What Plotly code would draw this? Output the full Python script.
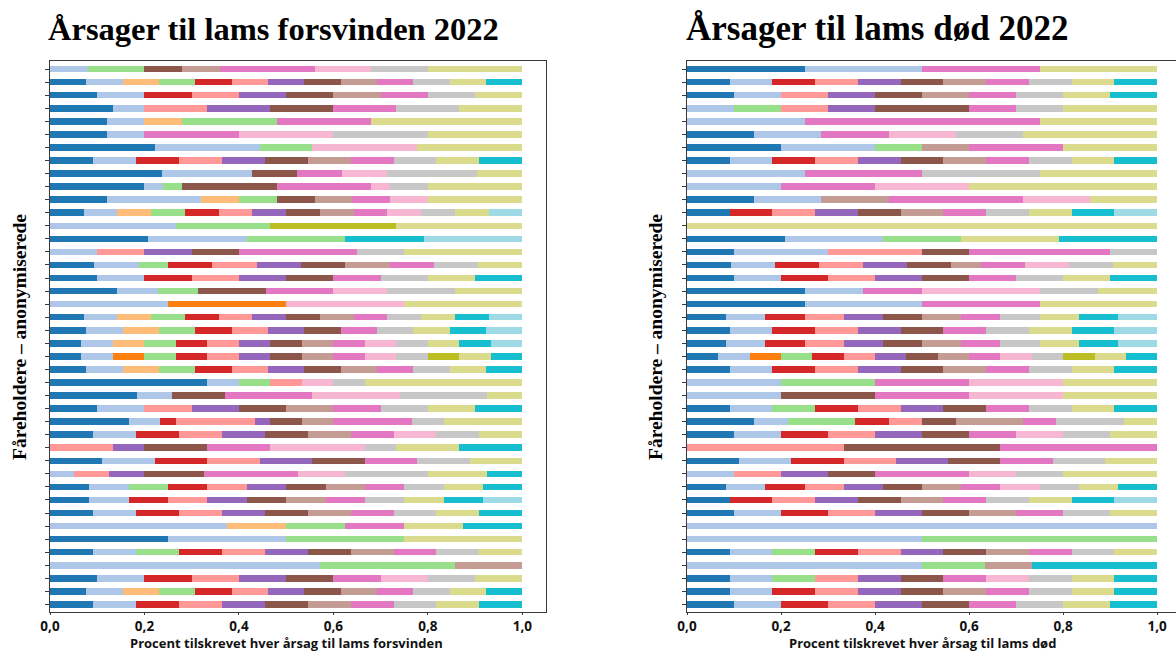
import plotly.graph_objects as go

# ---------------- categories (17 causes, pandas tab20 sampling) ----------------
aarsager = ["Årsag 1", "Årsag 2", "Årsag 3", "Årsag 4", "Årsag 5", "Årsag 6",
            "Årsag 7", "Årsag 8", "Årsag 9", "Årsag 10", "Årsag 11", "Årsag 12",
            "Årsag 13", "Årsag 14", "Årsag 15", "Årsag 16", "Årsag 17"]
farver = ["#1f77b4", "#aec7e8", "#ff7f0e", "#ffbb78", "#98df8a", "#d62728",
          "#ff9896", "#9467bd", "#8c564b", "#c49c94", "#e377c2", "#f7b6d2",
          "#c7c7c7", "#bcbd22", "#dbdb8d", "#17becf", "#9edae5"]

# 42 anonymised farmers, listed top to bottom
faareholdere = [f"Fåreholder {i}" for i in range(1, 43)]

# ---------------- lams forsvinden: relative weights per cause, per farmer ----------------
forsv_01 = [0,1,1,2,3,3,2,1,5,5, 3,1,0,5,0,3,1,5,0,1, 1,1,1,1,5,5,1,5,1,0, 1,0,1,1,1,0,1,1,0,1, 1,1]
forsv_02 = [2,1,1,1,2,2,2,1,4,1, 5,1,4,5,2,3,1,3,1,1, 1,1,1,1,1,2,1,2,1,0, 1,2,1,1,1,3,1,1,4,1, 1,1]
forsv_03 = [0,0,0,0,0,0,0,0,0,0, 0,0,0,0,0,0,0,0,1,0, 0,0,1,0,0,0,0,0,0,0, 0,0,0,0,0,0,0,0,0,0, 0,0]
forsv_04 = [0,1,0,0,2,0,0,0,0,0, 2,1,0,0,0,0,0,0,0,1, 1,1,0,1,0,0,0,0,0,0, 0,0,0,0,0,1,0,0,0,0, 1,0]
forsv_05 = [3,1,0,0,5,0,1,0,0,1, 2,1,3,5,0,2,0,3,0,1, 1,1,1,1,1,0,0,0,0,0, 0,0,1,0,0,1,1,1,2,0, 1,0]
forsv_06 = [0,1,1,0,0,0,0,1,0,0, 0,1,0,0,0,3,1,0,0,1, 1,1,1,1,0,0,0,1,1,0, 1,0,1,1,1,0,0,1,0,1, 1,1]
forsv_07 = [0,1,1,2,0,0,0,1,0,0, 0,1,0,0,2,3,1,0,0,1, 1,1,1,1,1,0,1,5,1,2, 1,3,1,1,1,0,0,1,0,1, 1,1]
forsv_08 = [0,1,1,2,0,0,0,1,0,0, 0,1,0,0,2,3,1,0,0,1, 1,1,1,1,0,0,1,1,1,1, 1,3,1,1,1,0,0,1,0,1, 1,1]
forsv_09 = [2,1,1,2,0,0,0,1,2,5, 2,1,0,0,2,3,1,5,0,1, 1,1,1,1,0,3,1,2,1,2, 1,5,1,1,1,0,0,1,0,1, 1,1]
forsv_10 = [2,1,1,0,0,0,0,1,0,0, 2,1,0,0,0,3,0,0,0,1, 0,1,1,1,0,0,1,2,1,0, 0,0,1,1,1,0,0,1,1,0, 1,1]
forsv_11 = [5,1,1,2,5,5,0,1,2,5, 2,1,0,0,5,3,1,5,0,1, 1,1,1,1,0,5,1,5,1,2, 1,8,1,1,1,1,0,1,0,1, 1,1]
forsv_12 = [3,0,0,0,0,5,2,0,2,1, 2,1,0,0,0,0,0,4,1,0, 0,1,1,0,1,5,0,0,1,3, 0,4,0,0,0,0,0,0,0,1, 0,0]
forsv_13 = [3,1,1,2,0,5,0,1,4,2, 0,1,0,0,2,3,1,5,0,1, 1,1,1,1,1,5,1,2,1,1, 1,7,1,1,1,0,0,1,0,1, 1,1]
forsv_14 = [0,0,0,0,0,0,0,0,0,0, 0,0,4,0,0,0,0,0,0,0, 0,0,1,0,0,0,0,0,0,0, 0,0,0,0,0,0,0,0,0,0, 0,0]
forsv_15 = [5,1,1,2,8,5,2,1,2,5, 5,1,4,0,5,3,1,5,1,1, 1,1,1,1,5,2,1,5,1,2, 1,5,1,1,1,1,1,1,0,1, 1,1]
forsv_16 = [0,1,0,0,0,0,0,1,0,0, 0,0,0,4,0,0,1,0,0,1, 1,1,1,1,0,0,1,0,0,2, 0,3,1,1,1,1,0,0,0,0, 1,1]
forsv_17 = [0,0,0,0,0,0,0,0,0,0, 0,1,0,5,0,0,0,0,0,1, 1,1,0,0,0,0,0,0,0,0, 0,0,0,1,0,0,0,0,0,0, 0,0]

# ---------------- lams død: relative weights per cause, per farmer ----------------
doed_01 = [1,1,1,0,0,1,2,1,0,0, 1,1,0,5,1,3,1,2,1,1, 1,1,1,1,0,0,1,2,1,0, 1,0,1,1,1,0,0,1,0,1, 1,1]
doed_02 = [1,1,1,1,1,1,2,1,1,1, 1,0,0,5,2,3,1,1,1,1, 1,1,1,1,1,1,1,1,1,0, 1,1,1,0,1,1,1,1,15,1, 1,1]
doed_03 = [0,0,0,0,0,0,0,0,0,0, 0,0,0,0,0,0,0,0,0,0, 0,0,1,0,0,0,0,0,0,0, 0,0,0,0,0,0,0,0,0,0, 0,0]
doed_04 = [0,0,0,0,0,0,0,0,0,0, 0,0,0,0,0,0,0,0,0,0, 0,0,0,0,0,0,0,0,0,0, 0,0,0,0,0,0,0,0,0,0, 0,0]
doed_05 = [0,0,0,1,0,0,1,0,0,0, 0,0,0,4,0,0,0,0,0,0, 0,0,1,0,1,0,1,2,0,0, 0,0,0,0,0,0,1,1,4,1, 0,0]
doed_06 = [0,1,0,0,0,0,0,1,0,0, 0,1,0,0,0,3,1,0,0,1, 1,1,1,1,0,0,1,1,1,0, 1,0,1,1,1,0,0,1,0,0, 1,1]
doed_07 = [0,1,1,1,0,0,0,1,0,0, 0,1,0,0,2,3,1,0,0,1, 1,1,1,1,0,0,1,1,1,1, 1,1,1,1,1,0,0,1,0,1, 1,1]
doed_08 = [0,1,1,1,0,0,0,1,0,0, 0,1,0,0,0,3,1,0,0,1, 1,1,1,1,0,0,1,0,1,0, 1,1,1,1,1,0,0,1,0,1, 1,1]
doed_09 = [0,1,1,2,0,0,0,1,0,0, 0,1,0,0,1,3,1,0,0,1, 1,1,1,1,0,1,1,1,1,1, 1,1,1,1,1,0,0,1,0,1, 1,1]
doed_10 = [0,1,1,0,0,0,1,1,0,0, 1,1,0,0,0,2,0,0,0,1, 0,1,1,1,0,0,0,2,0,0, 0,0,1,1,1,0,0,1,3,0, 1,0]
doed_11 = [1,1,1,1,2,1,2,1,1,1, 2,1,0,0,3,3,1,1,1,1, 1,1,1,1,1,1,1,1,1,1, 1,2,1,1,1,0,0,1,0,1, 1,1]
doed_12 = [0,0,0,0,0,1,0,0,0,1, 1,0,0,0,0,3,0,2,0,0, 0,0,1,0,1,1,0,0,1,0, 0,1,1,0,0,0,0,0,0,1, 0,0]
doed_13 = [0,1,1,1,0,1,0,1,1,0, 0,1,0,0,1,3,1,1,0,1, 1,1,1,1,0,0,1,2,1,0, 1,1,1,1,1,0,0,1,0,1, 1,1]
doed_14 = [0,0,0,0,0,0,0,0,0,0, 0,0,0,0,0,0,0,0,0,0, 0,0,1,0,0,0,0,0,0,0, 0,0,0,0,0,0,0,0,0,0, 0,0]
doed_15 = [1,1,1,2,1,2,2,1,1,2, 1,1,1,5,0,3,1,1,1,1, 1,1,1,1,1,1,1,1,1,0, 1,2,1,1,1,0,0,1,0,1, 1,1]
doed_16 = [0,1,1,0,0,0,0,1,0,0, 0,1,0,5,0,0,1,0,0,1, 1,1,1,1,0,0,1,0,0,0, 0,0,1,1,0,0,0,0,8,1, 1,1]
doed_17 = [0,0,0,0,0,0,0,0,0,0, 0,1,0,0,0,0,0,0,0,1, 1,1,0,0,0,0,0,0,0,0, 0,0,0,1,0,0,0,0,0,0, 0,0]

forsvinden = [forsv_01, forsv_02, forsv_03, forsv_04, forsv_05, forsv_06, forsv_07,
              forsv_08, forsv_09, forsv_10, forsv_11, forsv_12, forsv_13, forsv_14,
              forsv_15, forsv_16, forsv_17]
doed = [doed_01, doed_02, doed_03, doed_04, doed_05, doed_06, doed_07, doed_08,
        doed_09, doed_10, doed_11, doed_12, doed_13, doed_14, doed_15, doed_16, doed_17]

titel_venstre = "Årsager til lams forsvinden 2022"
titel_hoejre = "Årsager til lams død 2022"
y_titel = "Fåreholdere – anonymiserede"
x_titel_venstre = "Procent tilskrevet hver årsag til lams forsvinden"
x_titel_hoejre = "Procent tilskrevet hver årsag til lams død"
x_tickvals = [0, 0.2, 0.4, 0.6, 0.8, 1.0]
x_ticktext = ["0,0", "0,2", "0,4", "0,6", "0,8", "1,0"]

# ---------------- figure ----------------
W, H = 1176, 652
fig = go.Figure()
rows = list(range(len(faareholdere)))


def add_panel(series, xa, ya):
    totals = [sum(s[i] for s in series) for i in rows]
    for k, s in enumerate(series):
        fig.add_trace(go.Bar(
            x=[s[i] / totals[i] for i in rows], y=rows, orientation="h",
            name=aarsager[k], marker=dict(color=farver[k], line=dict(width=0)),
            width=0.5, xaxis=xa, yaxis=ya, showlegend=False,
            customdata=faareholdere,
            hovertemplate="%{customdata}<br>" + aarsager[k] + ": %{x:.1%}<extra></extra>"))


add_panel(forsvinden, "x", "y")
add_panel(doed, "x2", "y2")

ydom = [1 - 612 / H, 1 - 61 / H]
axis_line = "#3a3a3a"
tickfont = dict(family="Open Sans, Noto Sans, sans-serif", size=13.5, color="#111", weight="bold")
common_x = dict(tickvals=x_tickvals, ticktext=x_ticktext, showgrid=False, zeroline=False,
                showline=True, linecolor=axis_line, linewidth=1, ticks="outside",
                ticklen=2, tickcolor=axis_line, tickfont=tickfont, mirror=True,
                automargin=False)
common_y = dict(range=[41.58, -0.62], tickvals=rows, showticklabels=False, showgrid=False,
                zeroline=False, showline=True, linecolor=axis_line, linewidth=1,
                ticks="outside", ticklen=4, tickcolor=axis_line, domain=ydom,
                automargin=False)

fig.update_layout(
    width=W, height=H, barmode="stack", bargap=0,
    margin=dict(l=0, r=0, t=0, b=0, autoexpand=False),
    paper_bgcolor="white", plot_bgcolor="white",
    xaxis=dict(domain=[50 / W, 546 / W], range=[0, 1.05], anchor="y", **common_x),
    yaxis=dict(anchor="x", mirror=True, **common_y),
    xaxis2=dict(domain=[687 / W, 1.0], range=[0, 1.04], anchor="y2", **common_x),
    yaxis2=dict(anchor="x2", mirror=False, **common_y),
)

serif_l = dict(family="Liberation Serif, Times New Roman, serif", size=32.5, color="#000", weight="bold")
serif_r = dict(family="Liberation Serif, Times New Roman, serif", size=35, color="#000", weight="bold")
serif_y = dict(family="Liberation Serif, Times New Roman, serif", size=19.5, color="#000", weight="bold")
sans_x = dict(family="Open Sans, Noto Sans, sans-serif", size=13, color="#111", weight="bold")

ann = [
    dict(text=titel_venstre, x=46 / W, y=1 - 29 / H, xref="paper", yref="paper",
         xanchor="left", yanchor="middle", showarrow=False, font=serif_l),
    dict(text=titel_hoejre, x=684 / W, y=1 - 29 / H, xref="paper", yref="paper",
         xanchor="left", yanchor="middle", showarrow=False, font=serif_r),
    dict(text=y_titel, x=19 / W, y=1 - 337 / H, xref="paper", yref="paper",
         xanchor="center", yanchor="middle", textangle=-90, showarrow=False, font=serif_y),
    dict(text=y_titel, x=655 / W, y=1 - 337 / H, xref="paper", yref="paper",
         xanchor="center", yanchor="middle", textangle=-90, showarrow=False, font=serif_y),
    dict(text=x_titel_venstre, x=0.5, y=1 - 643 / H, xref="x", yref="paper",
         xanchor="center", yanchor="middle", showarrow=False, font=sans_x),
    dict(text=x_titel_hoejre, x=0.5, y=1 - 643 / H, xref="x2", yref="paper",
         xanchor="center", yanchor="middle", showarrow=False, font=sans_x),
]
fig.update_layout(annotations=ann)

fig.write_html("out.html", config={"displayModeBar": False},
               post_script="document.body.style.margin='0';document.body.style.overflow='hidden';")
